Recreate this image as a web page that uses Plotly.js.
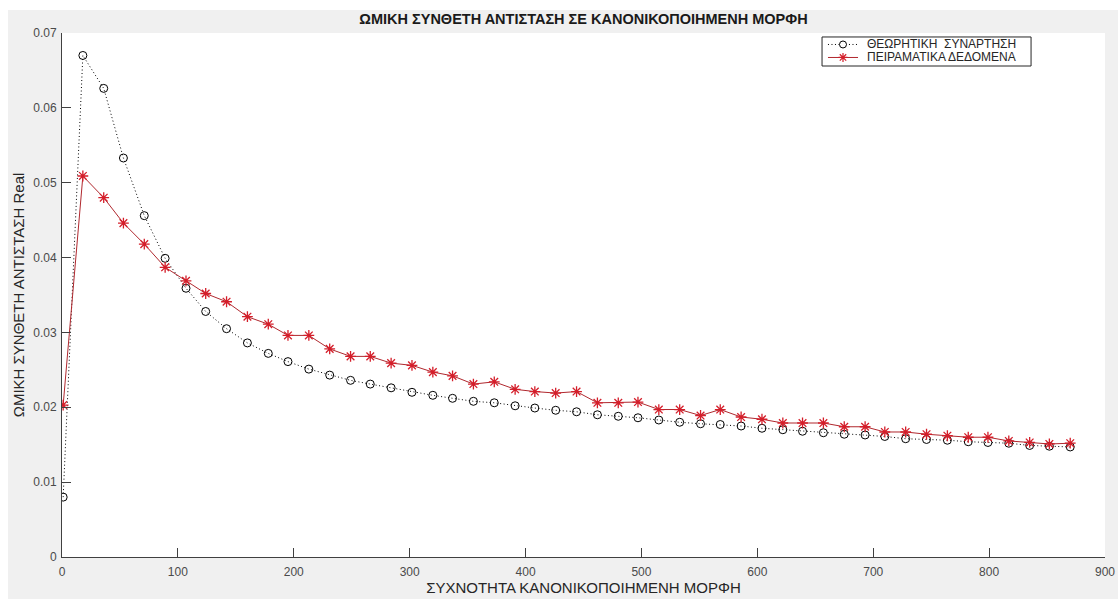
<!DOCTYPE html>
<html>
<head>
<meta charset="utf-8">
<script src="https://cdn.plot.ly/plotly-3.0.1.min.js"></script>
<style>
  html, body { margin: 0; padding: 0; background: #ffffff; }
  #chart { position: absolute; left: 8px; top: 10px; width: 1110px; height: 589px; }
</style>
</head>
<body>
<div id="chart"></div>
<script>
// Normalised frequency of each measurement point
const freq = [1, 18, 36, 53, 71, 89, 107, 124, 142, 160,
              178, 195, 213, 231, 249, 266, 284, 302, 320, 337,
              355, 373, 391, 408, 426, 444, 462, 480, 497, 515,
              533, 551, 568, 586, 604, 622, 639, 657, 675, 693,
              710, 728, 746, 764, 782, 799, 817, 835, 852, 870];

// Theoretical resistive impedance (real part)
const theoretical = [0.0080, 0.0670, 0.0626, 0.0533, 0.0456, 0.0399, 0.0359, 0.0328, 0.0305, 0.0286,
                     0.0272, 0.0261, 0.0251, 0.0243, 0.0236, 0.0231, 0.0226, 0.0220, 0.0216, 0.0212,
                     0.0208, 0.0206, 0.0202, 0.0199, 0.0196, 0.0194, 0.0190, 0.0188, 0.0186, 0.0183,
                     0.0180, 0.0178, 0.0177, 0.0175, 0.0172, 0.0170, 0.0168, 0.0166, 0.0164, 0.0163,
                     0.0161, 0.0158, 0.0157, 0.0156, 0.0154, 0.0153, 0.0152, 0.0149, 0.0148, 0.0147];

// Measured resistive impedance (real part)
const experimental = [0.0203, 0.0509, 0.0480, 0.0446, 0.0418, 0.0387, 0.0369, 0.0352, 0.0341, 0.0321,
                      0.0311, 0.0296, 0.0296, 0.0278, 0.0268, 0.0268, 0.0259, 0.0256, 0.0247, 0.0242,
                      0.0231, 0.0234, 0.0224, 0.0221, 0.0219, 0.0221, 0.0206, 0.0206, 0.0207, 0.0197,
                      0.0197, 0.0189, 0.0197, 0.0187, 0.0184, 0.0179, 0.0179, 0.0179, 0.0174, 0.0174,
                      0.0167, 0.0167, 0.0164, 0.0162, 0.0160, 0.0160, 0.0155, 0.0153, 0.0151, 0.0152];

const seriesNames = ['ΘΕΩΡΗΤΙΚΗ  ΣΥΝΑΡΤΗΣΗ', 'ΠΕΙΡΑΜΑΤΙΚΑ ΔΕΔΟΜΕΝΑ'];

const xTicks = [0, 100, 200, 300, 400, 500, 600, 700, 800, 900];
const yTicks = [0, 0.01, 0.02, 0.03, 0.04, 0.05, 0.06, 0.07];
const yTickText = ['0', '0.01', '0.02', '0.03', '0.04', '0.05', '0.06', '0.07'];

const FONT = 'Liberation Sans, Arial, Helvetica, sans-serif';
const DOTS = '1px,2.5px';
const RED_LINE = '#b0282e';
const RED_MARK = '#d41e2a';

const traces = [
  {
    x: freq, y: theoretical, type: 'scatter', mode: 'lines+markers',
    name: seriesNames[0], showlegend: false,
    line: { color: '#000000', width: 1, dash: DOTS },
    marker: { symbol: 'circle-open', size: 8, color: '#000000', line: { width: 1, color: '#000000' } }
  },
  {
    x: freq, y: experimental, type: 'scatter', mode: 'lines+markers',
    name: seriesNames[1], showlegend: false,
    line: { color: RED_LINE, width: 1 },
    marker: { symbol: 'asterisk-open', size: 9, color: RED_MARK, line: { width: 1.3, color: RED_MARK } }
  }
];

// Compact boxed legend in the upper right of the axes (paper coordinates)
const LEG = { x0: 0.7287, x1: 0.9291, y0: 0.937, y1: 0.9924,
              rows: [0.9781, 0.9533], lineX0: 0.7344, lineX1: 0.7632, glyphX: 0.7488, textX: 0.7699 };

const shapes = [
  { type: 'rect', xref: 'paper', yref: 'paper', x0: LEG.x0, x1: LEG.x1, y0: LEG.y0, y1: LEG.y1,
    fillcolor: '#ffffff', line: { color: '#262626', width: 1 }, layer: 'above' },
  { type: 'line', xref: 'paper', yref: 'paper', x0: LEG.lineX0, x1: LEG.lineX1, y0: LEG.rows[0], y1: LEG.rows[0],
    line: { color: '#000000', width: 1, dash: DOTS }, layer: 'above' },
  { type: 'circle', xref: 'paper', yref: 'paper', xsizemode: 'pixel', ysizemode: 'pixel',
    xanchor: LEG.glyphX, yanchor: LEG.rows[0], x0: -3.5, x1: 3.5, y0: -3.5, y1: 3.5,
    fillcolor: '#ffffff', line: { color: '#000000', width: 1 }, layer: 'above' },
  { type: 'line', xref: 'paper', yref: 'paper', x0: LEG.lineX0, x1: LEG.lineX1, y0: LEG.rows[1], y1: LEG.rows[1],
    line: { color: RED_LINE, width: 1 }, layer: 'above' },
  { type: 'path', xref: 'paper', yref: 'paper', xsizemode: 'pixel', ysizemode: 'pixel',
    xanchor: LEG.glyphX, yanchor: LEG.rows[1],
    path: 'M-4.5,0L4.5,0M0,-4.5L0,4.5M-3.2,-3.2L3.2,3.2M-3.2,3.2L3.2,-3.2',
    line: { color: RED_MARK, width: 1.2 }, layer: 'above' }
];

const annotations = seriesNames.map((name, i) => ({
  xref: 'paper', yref: 'paper', x: LEG.textX, y: LEG.rows[i],
  xanchor: 'left', yanchor: 'middle', showarrow: false, text: name,
  font: { family: FONT, size: 12, color: '#262626' }
}));

const axisCommon = {
  showgrid: false, zeroline: false, showline: true, mirror: false,
  linecolor: '#404040', linewidth: 1,
  ticks: 'inside', ticklen: 9, tickwidth: 1, tickcolor: '#404040',
  tickfont: { family: FONT, size: 12, color: '#4a4a4a' }
};

const layout = {
  width: 1110, height: 589,
  paper_bgcolor: '#f0f0f0', plot_bgcolor: '#ffffff',
  margin: { l: 54, r: 13, t: 23, b: 42 },
  showlegend: false,
  title: {
    text: '<b>ΩΜΙΚΗ ΣΥΝΘΕΤΗ ΑΝΤΙΣΤΑΣΗ ΣΕ ΚΑΝΟΝΙΚΟΠΟΙΗΜΕΝΗ ΜΟΡΦΗ</b>',
    font: { family: FONT, size: 14.5, color: '#1a1a1a' },
    x: 0.5, xref: 'paper', y: 0.985, yref: 'container', yanchor: 'middle'
  },
  xaxis: Object.assign({}, axisCommon, {
    range: [0, 900], tickvals: xTicks, ticktext: xTicks.map(String), ticklabelstandoff: 4,
    title: { text: 'ΣΥΧΝΟΤΗΤΑ ΚΑΝΟΝΙΚΟΠΟΙΗΜΕΝΗ ΜΟΡΦΗ', standoff: 1,
             font: { family: FONT, size: 15, color: '#262626' } }
  }),
  yaxis: Object.assign({}, axisCommon, {
    range: [0, 0.07], tickvals: yTicks, ticktext: yTickText, ticklabelstandoff: 2,
    title: { text: 'ΩΜΙΚΗ ΣΥΝΘΕΤΗ ΑΝΤΙΣΤΑΣΗ Real', standoff: 4,
             font: { family: FONT, size: 15, color: '#262626' } }
  }),
  shapes: shapes,
  annotations: annotations
};

Plotly.newPlot('chart', traces, layout, { displayModeBar: false, staticPlot: true });
</script>
</body>
</html>
